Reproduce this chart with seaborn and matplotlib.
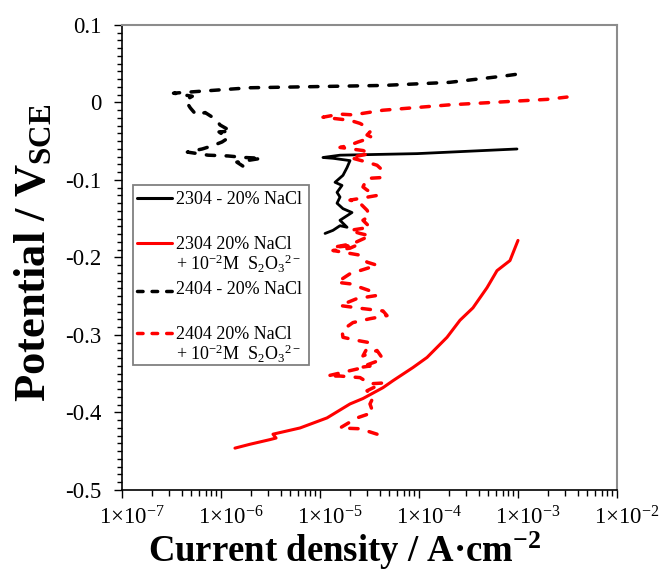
import numpy as np
import pandas as pd
import matplotlib
matplotlib.use("Agg")
import matplotlib.pyplot as plt
import matplotlib.ticker as mticker
import matplotlib.transforms as mtrans
from matplotlib.patches import Rectangle
import seaborn as sns

# ---- data (log10 of current density in A/cm2, potential in V vs SCE) ----
# 2304 - 20% NaCl
log_i_2304 = [-4.949, -4.869, -4.798, -4.727, -4.798, -4.677, -4.768, -4.828, -4.798, -4.828,
              -4.778, -4.848, -4.768, -4.727, -4.697, -4.869, -4.970, -4.798, -4.020, -3.010]
e_2304 = [-0.169, -0.165, -0.159, -0.161, -0.152, -0.142, -0.137, -0.130, -0.122, -0.116,
          -0.107, -0.103, -0.094, -0.084, -0.075, -0.072, -0.071, -0.068, -0.066, -0.060]

# 2304 20% NaCl + 1e-2 M S2O3(2-)
log_i_2304_thio = [-5.859, -5.707, -5.505, -5.444, -5.475, -5.202, -4.929, -4.697, -4.566, -4.364,
                   -4.263, -4.061, -3.919, -3.717, -3.586, -3.455, -3.313, -3.212, -3.081, -3.000]
e_2304_thio = [-0.446, -0.441, -0.435, -0.433, -0.428, -0.420, -0.407, -0.389, -0.382, -0.368,
               -0.359, -0.342, -0.329, -0.303, -0.281, -0.265, -0.239, -0.217, -0.204, -0.178]

# 2404 - 20% NaCl
log_i_2404 = [-5.78, -5.84, -5.59, -5.76, -5.93, -6.13, -6.34, -6.19, -6.09, -5.99,
              -5.93, -6.02, -5.90, -6.01, -6.05, -6.16, -6.25, -6.31, -6.36, -6.29,
              -6.48, -5.71, -4.36, -3.69, -3.15, -2.98]
e_2404 = [-0.082, -0.077, -0.072, -0.071, -0.069, -0.068, -0.064, -0.060, -0.056, -0.051,
          -0.046, -0.038, -0.037, -0.029, -0.022, -0.013, -0.016, -0.007, 0.003, 0.008,
          0.012, 0.019, 0.022, 0.026, 0.034, 0.037]

# 2404 20% NaCl + 1e-2 M S2O3(2-)
log_i_2404_thio = [-4.424, -4.596, -4.798, -4.626, -4.465, -4.495, -4.465, -4.525, -4.364, -4.495,
                   -4.596, -4.798, -4.929, -4.495, -4.596, -4.364, -4.424, -4.566, -4.495, -4.626,
                   -4.768, -4.778, -4.667, -4.495, -4.323, -4.364, -4.566, -4.798, -4.626, -4.424,
                   -4.495, -4.697, -4.828, -4.697, -4.424, -4.525, -4.596, -4.869, -4.697, -4.626,
                   -4.869, -4.667, -4.495, -4.596, -4.697, -4.495, -4.566, -4.495, -4.525, -4.596,
                   -4.697, -4.424, -4.525, -4.566, -4.525, -4.394, -4.364, -4.424, -4.525, -4.697,
                   -4.495, -4.566, -4.798, -4.697, -4.616, -4.475, -4.525, -4.495, -4.525, -4.596,
                   -4.697, -4.970, -4.798, -4.667, -4.364, -3.687, -2.707, -2.505]
e_2404_thio = [-0.428, -0.421, -0.420, -0.407, -0.400, -0.389, -0.381, -0.372, -0.362, -0.363,
               -0.355, -0.353, -0.353, -0.340, -0.342, -0.331, -0.320, -0.327, -0.310, -0.307,
               -0.303, -0.294, -0.284, -0.279, -0.275, -0.269, -0.266, -0.262, -0.253, -0.249,
               -0.243, -0.234, -0.232, -0.221, -0.210, -0.206, -0.197, -0.191, -0.188, -0.184,
               -0.187, -0.182, -0.172, -0.169, -0.165, -0.161, -0.152, -0.146, -0.139, -0.130,
               -0.126, -0.120, -0.113, -0.109, -0.098, -0.097, -0.088, -0.081, -0.077, -0.071,
               -0.066, -0.062, -0.058, -0.055, -0.051, -0.045, -0.042, -0.038, -0.032, -0.027,
               -0.023, -0.019, -0.015, -0.016, -0.010, -0.003, 0.004, 0.007]

legend_labels = [
    ["2304 - 20% NaCl"],
    ["2304 20% NaCl", "+ 10$^{-2}$M  S$_2$O$_3$$^{2-}$"],
    ["2404 - 20% NaCl"],
    ["2404 20% NaCl", "+ 10$^{-2}$M  S$_2$O$_3$$^{2-}$"],
]

# ---- style ----
sns.set_theme(style="ticks")
plt.rcParams["font.family"] = ["Liberation Serif", "DejaVu Serif"]
plt.rcParams["mathtext.fontset"] = "custom"
plt.rcParams["mathtext.rm"] = "Liberation Serif"
plt.rcParams["mathtext.it"] = "Liberation Serif:italic"
plt.rcParams["mathtext.bf"] = "Liberation Serif:bold"
plt.rcParams["axes.unicode_minus"] = False

fig = plt.figure(figsize=(6.66, 5.73), dpi=100)
ax = fig.add_axes([0.1832, 0.1449, 0.7432, 0.8115])
ax.set_xscale("log")

dash = (0, (2.4, 3.3))
series = [
    (log_i_2304, e_2304, "black", "-", 2.0),
    (log_i_2304_thio, e_2304_thio, "#ff0000", "-", 2.2),
    (log_i_2404, e_2404, "black", dash, 2.5),
    (log_i_2404_thio, e_2404_thio, "#ff0000", dash, 2.5),
]
for li, e, col, ls, lw in series:
    df = pd.DataFrame({"i": 10 ** np.array(li), "E": e})
    sns.lineplot(data=df, x="i", y="E", sort=False, estimator=None, color=col,
                 linestyle=ls, lw=lw, dash_capstyle="round", solid_capstyle="round", ax=ax)

ax.set_xlim(1e-7, 1e-2)
ax.set_ylim(-0.5, 0.1)

ax.xaxis.set_major_locator(mticker.LogLocator(base=10, numticks=10))
ax.xaxis.set_minor_locator(mticker.LogLocator(base=10, subs=np.arange(2, 10), numticks=20))
ax.xaxis.set_minor_formatter(mticker.NullFormatter())
ax.xaxis.set_major_formatter(mticker.FuncFormatter(
    lambda v, p: "1×10$^{%d}$" % int(round(np.log10(v)))))
ax.yaxis.set_major_locator(mticker.MultipleLocator(0.1))
ax.yaxis.set_minor_locator(mticker.MultipleLocator(0.01))
ax.yaxis.set_major_formatter(mticker.FuncFormatter(
    lambda v, p: "0" if abs(v) < 1e-9 else ("%.1f" % v)))

ax.tick_params(axis="both", which="both", direction="out", colors="black", width=1)
ax.tick_params(axis="y", which="major", length=6, pad=9, labelsize=16.5)
ax.tick_params(axis="y", which="minor", length=3.5)
ax.tick_params(axis="x", which="major", length=6, pad=6, labelsize=16.5)
ax.tick_params(axis="x", which="minor", length=4)

for s in ["left", "bottom"]:
    ax.spines[s].set_color("black")
    ax.spines[s].set_linewidth(1.2)
for s in ["top", "right"]:
    ax.spines[s].set_color("#8c8c8c")
    ax.spines[s].set_linewidth(1.5)

shift = mtrans.ScaledTranslation(10 / 100, 0, fig.dpi_scale_trans)
for lab in ax.xaxis.get_majorticklabels():
    lab.set_transform(lab.get_transform() + shift)

ax.set_xlabel("Current density / A·cm$^{\\mathbf{-2}}$", fontsize=26.5, fontweight="bold",
              color="black")
ax.set_ylabel("Potential / V$_{\\mathbf{SCE}}$", fontsize=32, fontweight="bold", color="black")
ax.xaxis.set_label_coords(0.45, -0.086)
ax.yaxis.set_label_coords(-0.138, 0.51)

# ---- legend drawn by hand (handle beside first text line) ----
ax.add_patch(Rectangle((0.022, 0.269), 0.356, 0.387, transform=ax.transAxes,
                       facecolor="white", edgecolor="#808080", lw=1.3, zorder=5))
handle_y = [0.628, 0.531, 0.428, 0.338]
text_y = [[0.615], [0.518, 0.473], [0.4215], [0.324, 0.279]]
for k, (col, ls, lw) in enumerate([("black", "-", 2.2), ("#ff0000", "-", 2.2),
                                   ("black", (0, (1.6, 2.6)), 2.5),
                                   ("#ff0000", (0, (1.6, 2.6)), 2.5)]):
    ax.plot([0.030, 0.101], [handle_y[k], handle_y[k]], transform=ax.transAxes,
            color=col, linestyle=ls, lw=lw, zorder=6, dash_capstyle="round")
    for line, ty in zip(legend_labels[k], text_y[k]):
        ax.text(0.109, ty, line, transform=ax.transAxes, fontsize=13, va="baseline",
                ha="left", color="black", zorder=6)

fig.savefig("out.png", dpi=100)
